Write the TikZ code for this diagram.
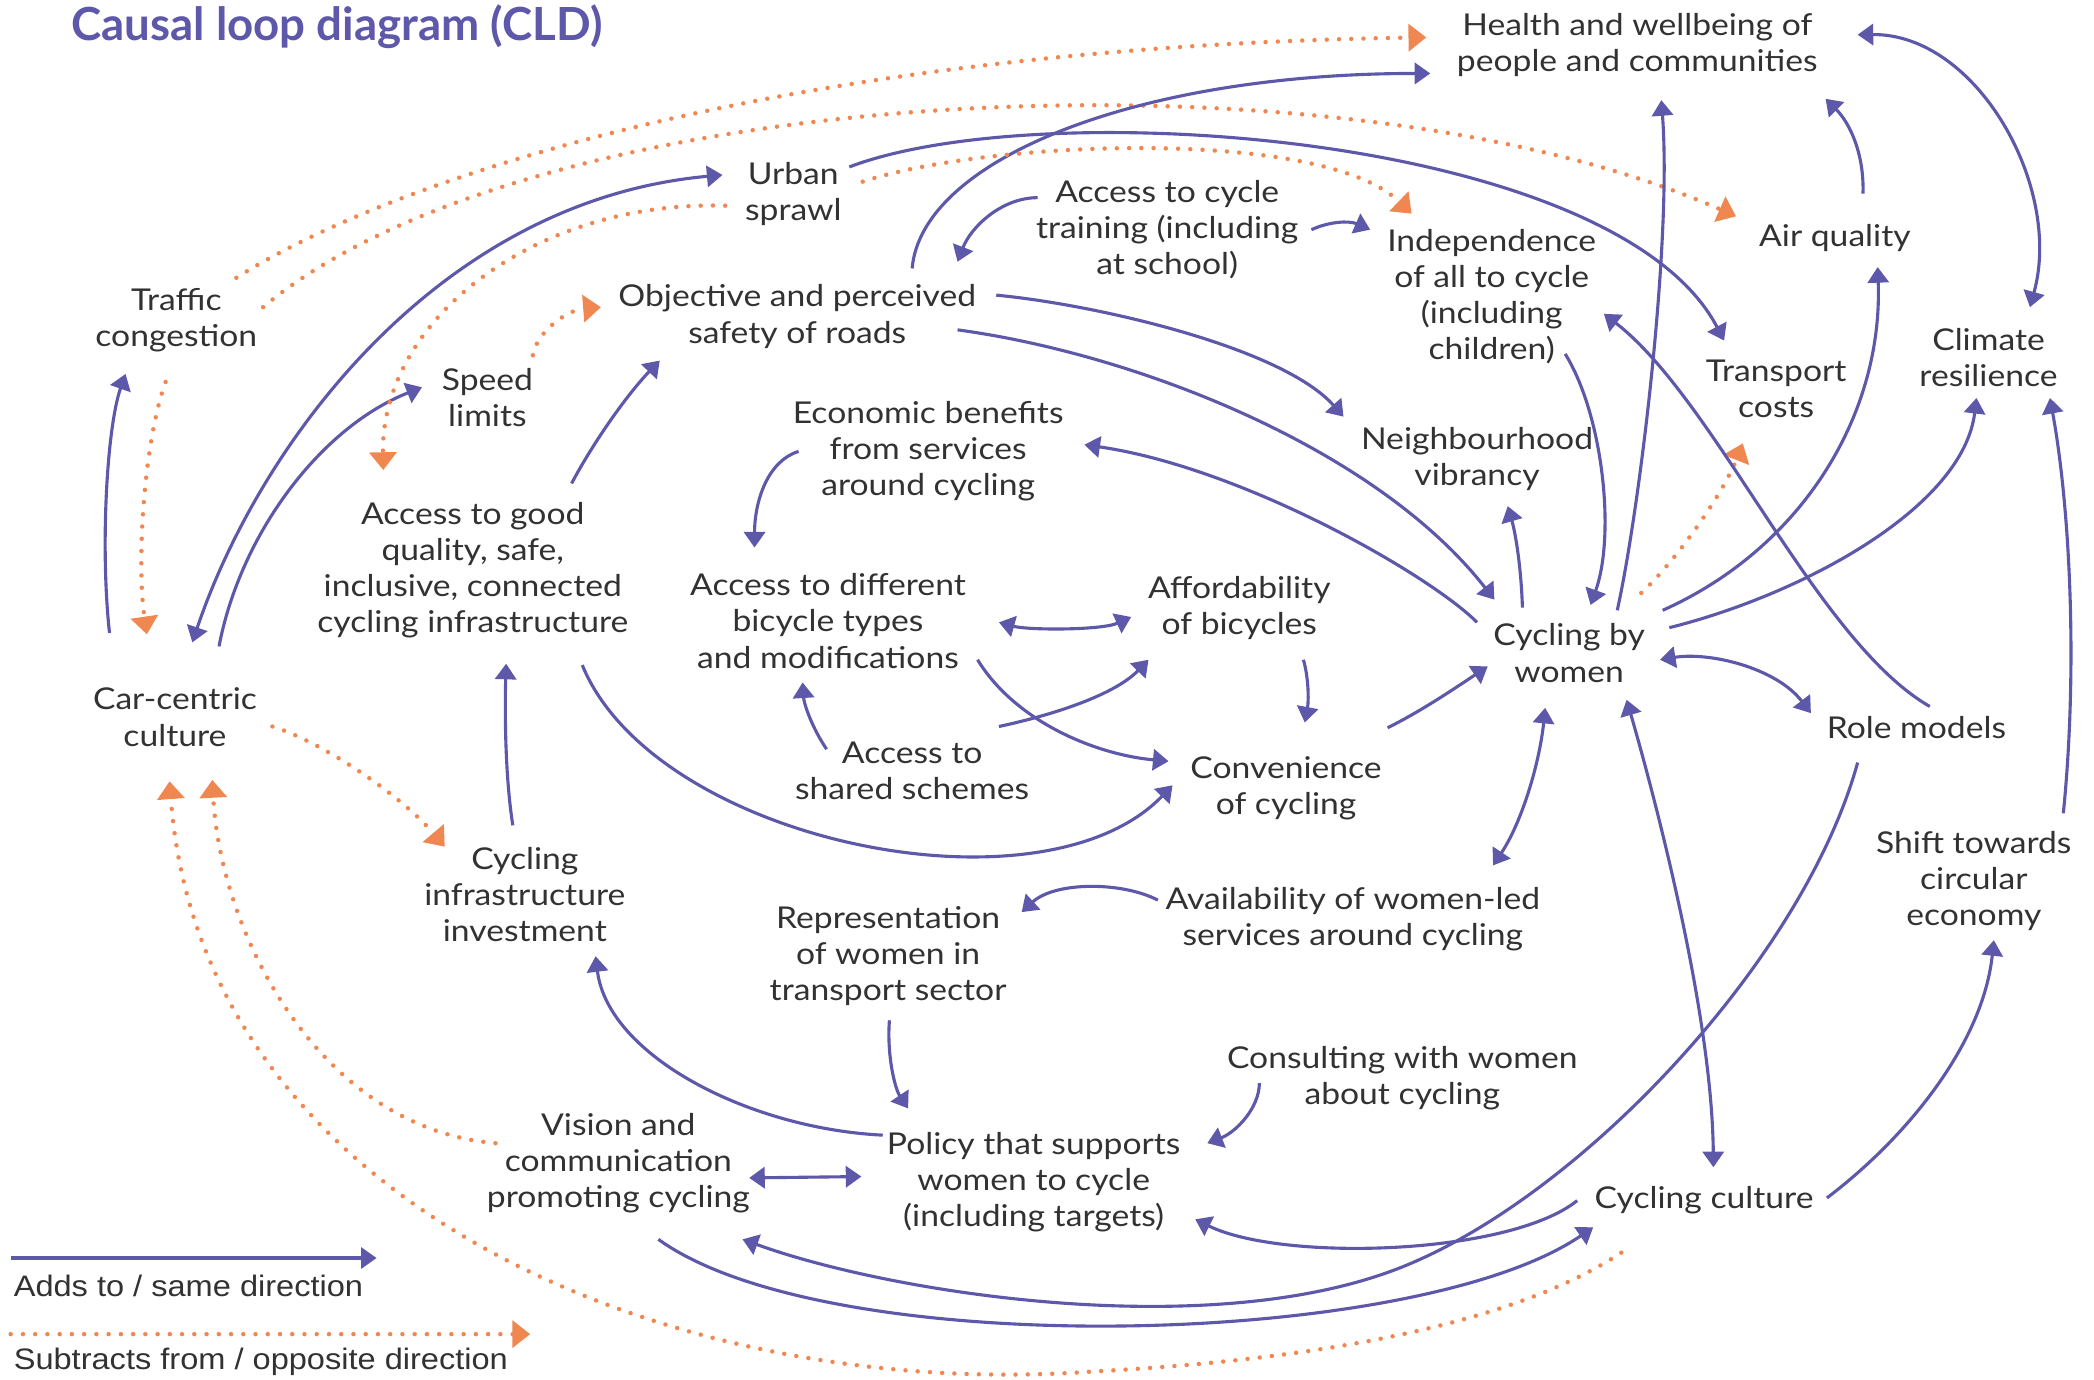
\documentclass[tikz,border=0pt]{standalone}
\usepackage{fontspec}
\setmainfont{Lato}[FakeStretch=1.12]
\newfontfamily\titlefont{Lato}
\newfontfamily\legendfont{Liberation Sans}[FakeStretch=1.1]
\usetikzlibrary{arrows.meta,calc}
\definecolor{cldpurple}{RGB}{94,88,170}
\definecolor{cldorange}{RGB}{240,135,80}
\definecolor{cldtext}{RGB}{50,50,50}
\tikzset{
  var/.style={text=cldtext, align=center, inner sep=0pt, font=\fontsize{13.5}{16.2}\selectfont},
  legendtext/.style={text=cldtext, anchor=west, inner sep=0pt, font=\legendfont\fontsize{13.3}{15}\selectfont},
  adds/.style={draw=cldpurple, line width=1.4pt, >={Triangle[width=9.5pt,length=7pt]}, ->},
  subtracts/.style={draw=cldorange, line width=2pt, line cap=round, dash pattern=on 0pt off 5.5pt, >={Triangle[width=12pt,length=8pt]}, ->}
}
\begin{document}
\begin{tikzpicture}[x=0.6pt, y=-0.6pt]
        \fill[white] (0,0) rectangle (1568,1033);
        \useasboundingbox (0,0) rectangle (1568,1033);
        \node[anchor=west, inner sep=0pt, text=cldpurple, font=\titlefont\fontsize{20.5}{24}\selectfont\bfseries] (title) at (53,20) {Causal loop diagram (CLD)};
        \node[var] (health) at (1226,34) {Health and wellbeing of\\people and communities};
        \node[var] (urban) at (594,145) {Urban\\sprawl};
        \node[var] (train) at (874,172) {Access to cycle\\training (including\\at school)};
        \node[var] (indep) at (1117,222) {Independence\\of all to cycle\\(including\\children)};
        \node[var] (air) at (1374,178) {Air quality};
        \node[var] (traffic) at (132,240) {Traffic\\congestion};
        \node[var] (safety) at (597,237) {Objective and perceived\\safety of roads};
        \node[var] (climate) at (1489,268) {Climate\\resilience};
        \node[var] (tcost) at (1330,291) {Transport\\costs};
        \node[var] (speed) at (365,298) {Speed\\limits};
        \node[var] (econ) at (695,338) {Economic benefits\\from services\\around cycling};
        \node[var] (vibr) at (1106,344) {Neighbourhood\\vibrancy};
        \node[var] (infra) at (354,427) {Access to good\\quality, safe,\\inclusive, connected\\cycling infrastructure};
        \node[var] (bikes) at (620,465) {Access to different\\bicycle types\\and modifications};
        \node[var] (afford) at (928,455) {Affordability\\of bicycles};
        \node[var] (cbw) at (1175,489) {Cycling by\\women};
        \node[var] (car) at (131,537) {Car-centric\\culture};
        \node[var] (role) at (1435,545) {Role models};
        \node[var] (shared) at (683,577) {Access to\\shared schemes};
        \node[var] (conv) at (963,590) {Convenience\\of cycling};
        \node[var] (shift) at (1478,660) {Shift towards\\circular\\economy};
        \node[var] (invest) at (393,670) {Cycling\\infrastructure\\investment};
        \node[var] (avail) at (1013,688) {Availability of women-led\\services around cycling};
        \node[var] (repr) at (665,716) {Representation\\of women in\\transport sector};
        \node[var] (consult) at (1050,807) {Consulting with women\\about cycling};
        \node[var] (vision) at (463,871) {Vision and\\communication\\promoting cycling};
        \node[var] (policy) at (774,885) {Policy that supports\\women to cycle\\(including targets)};
        \node[var] (culture) at (1276,899) {Cycling culture};

        \draw[adds] ($(car)+(-49,-63)$) .. controls (75,410) and (80,320) .. ($(traffic)+(-38,40)$);
        \draw[subtracts] ($(traffic)+(-8,46)$) .. controls (108,330) and (102,420) .. ($(car)+(-21,-62)$);
        \draw[adds,<->] ($(car)+(13,-56)$) .. controls (195,330) and (330,150) .. ($(urban)+(-53,-14)$);
        \draw[adds] ($(car)+(33,-53)$) .. controls (180,400) and (240,320) .. ($(speed)+(-49,-8)$);
        \draw[subtracts] ($(traffic)+(45,-32)$) .. controls (300,130) and (600,35) .. ($(health)+(-158,-6)$);
        \draw[subtracts] ($(traffic)+(65,-10)$) .. controls (400,60) and (1000,30) .. ($(air)+(-74,-16)$);
        \draw[adds] ($(safety)+(86,-36)$) .. controls (690,120) and (850,55) .. ($(health)+(-155,21)$);
        \draw[adds] ($(urban)+(42,-20)$) .. controls (780,70) and (1210,100) .. ($(tcost)+(-39,-36)$);
        \draw[subtracts] ($(urban)+(52,-9)$) .. controls (740,105) and (990,95) .. ($(indep)+(-60,-62)$);
        \draw[subtracts] ($(urban)+(-51,9)$) .. controls (400,150) and (285,240) .. ($(infra)+(-67,-75)$);
        \draw[subtracts] ($(speed)+(34,-32)$) .. controls (402,248) and (425,232) .. ($(safety)+(-147,-7)$);
        \draw[adds] ($(infra)+(74,-65)$) .. controls (445,330) and (470,295) .. ($(safety)+(-103,33)$);
        \draw[adds] ($(train)+(-97,-24)$) .. controls (750,148) and (727,170) .. ($(safety)+(120,-41)$);
        \draw[adds] ($(train)+(108,0)$) .. controls (995,166) and (1010,165) .. ($(indep)+(-91,-50)$);
        \draw[adds] ($(safety)+(149,-16)$) .. controls (820,228) and (960,260) .. ($(vibr)+(-100,-32)$);
        \draw[adds] ($(safety)+(120,10)$) .. controls (850,265) and (1030,335) .. ($(cbw)+(-56,-40)$);
        \draw[adds] ($(cbw)+(-69,-23)$) .. controls (1070,430) and (930,350) .. ($(econ)+(117,-5)$);
        \draw[adds] ($(econ)+(-97,0)$) .. controls (575,345) and (565,375) .. ($(bikes)+(-55,-55)$);
        \draw[adds,<->] ($(bikes)+(128,1)$) .. controls (770,472) and (825,472) .. ($(afford)+(-81,7)$);
        \draw[adds] ($(bikes)+(112,29)$) .. controls (760,540) and (820,565) .. ($(conv)+(-88,-20)$);
        \draw[adds] ($(shared)+(-64,-16)$) .. controls (608,545) and (602,527) .. ($(bikes)+(-19,46)$);
        \draw[adds] ($(shared)+(65,-33)$) .. controls (790,535) and (835,520) .. ($(afford)+(-68,39)$);
        \draw[adds] ($(afford)+(48,39)$) .. controls (980,508) and (980,525) .. ($(conv)+(14,-49)$);
        \draw[adds] ($(infra)+(82,71)$) .. controls (490,630) and (780,690) .. ($(conv)+(-85,-2)$);
        \draw[adds] ($(conv)+(76,-45)$) .. controls (1065,532) and (1090,515) .. ($(cbw)+(-61,10)$);
        \draw[adds] ($(cbw)+(-35,-34)$) .. controls (1139,425) and (1135,400) .. ($(vibr)+(23,35)$);
        \draw[adds] ($(indep)+(55,43)$) .. controls (1200,310) and (1210,400) .. ($(cbw)+(16,-36)$);
        \draw[adds] ($(cbw)+(36,-32)$) .. controls (1228,380) and (1252,180) .. ($(health)+(18,41)$);
        \draw[subtracts] ($(cbw)+(54,-45)$) .. controls (1255,420) and (1290,370) .. ($(tcost)+(-25,41)$);
        \draw[adds] ($(role)+(10,-16)$) .. controls (1360,480) and (1285,300) .. ($(indep)+(84,13)$);
        \draw[adds] ($(cbw)+(70,-32)$) .. controls (1350,410) and (1410,310) .. ($(air)+(32,22)$);
        \draw[adds] ($(cbw)+(75,-19)$) .. controls (1350,445) and (1470,380) .. ($(climate)+(-9,30)$);
        \draw[adds] ($(air)+(21,-33)$) .. controls (1396,115) and (1385,92) .. ($(health)+(141,40)$);
        \draw[adds,<->] ($(health)+(165,-8)$) .. controls (1480,25) and (1545,140) .. ($(climate)+(31,-38)$);
        \draw[adds] ($(shift)+(67,-51)$) .. controls (1556,500) and (1550,380) .. ($(climate)+(46,30)$);
        \draw[adds,<->] ($(cbw)+(68,5)$) .. controls (1280,488) and (1330,500) .. ($(role)+(-79,-11)$);
        \draw[adds,<->] ($(cbw)+(43,35)$) .. controls (1240,600) and (1282,760) .. ($(culture)+(7,-25)$);
        \draw[adds,<->] ($(cbw)+(-18,41)$) .. controls (1153,570) and (1140,615) .. ($(avail)+(105,-40)$);
        \draw[adds] ($(avail)+(-146,-14)$) .. controls (840,660) and (790,660) .. ($(repr)+(100,-33)$);
        \draw[adds] ($(repr)+(1,48)$) .. controls (664,790) and (670,815) .. ($(policy)+(-94,-55)$);
        \draw[adds] ($(consult)+(-107,4)$) .. controls (943,830) and (925,848) .. ($(policy)+(130,-29)$);
        \draw[adds] ($(policy)+(-113,-35)$) .. controls (560,845) and (455,790) .. ($(invest)+(53,46)$);
        \draw[adds,<->] ($(vision)+(98,11)$) -- ($(policy)+(-129,-4)$);
        \draw[adds] ($(culture)+(-95,0)$) .. controls (1130,940) and (960,945) .. ($(policy)+(121,28)$);
        \draw[adds] ($(role)+(-44,26)$) .. controls (1350,720) and (1180,900) .. (1044,951) .. controls (900,1005) and (666,968) .. ($(vision)+(93,57)$);
        \draw[adds] ($(vision)+(30,57)$) .. controls (620,1020) and (1060,1010) .. ($(culture)+(-83,20)$);
        \draw[subtracts] ($(culture)+(-62,39)$) .. controls (1120,1000) and (950,1020) .. (818,1027) .. controls (500,1050) and (150,900) .. ($(car)+(-4,48)$);
        \draw[subtracts] ($(vision)+(-92,-15)$) .. controls (240,845) and (165,700) .. ($(car)+(28,47)$);
        \draw[subtracts] ($(car)+(73,7)$) .. controls (240,555) and (300,595) .. ($(invest)+(-60,-36)$);
        \draw[adds] ($(invest)+(-9,-52)$) .. controls (378,580) and (378,530) .. ($(infra)+(25,70)$);
        \draw[adds] ($(culture)+(92,-2)$) .. controls (1430,850) and (1485,780) .. ($(shift)+(15,44)$);

        \coordinate (addsfrom) at (8,942);
        \coordinate (addsto) at (282,942);
        \coordinate (subfrom) at (8,999);
        \coordinate (subto) at (397,999);
        \draw[adds] (addsfrom) -- (addsto);
        \draw[subtracts] (subfrom) -- (subto);
        \node[legendtext] (addslabel) at (10,963) {Adds to / same direction};
        \node[legendtext] (sublabel) at (10,1020) {Subtracts from / opposite direction};
\end{tikzpicture}
\end{document}
